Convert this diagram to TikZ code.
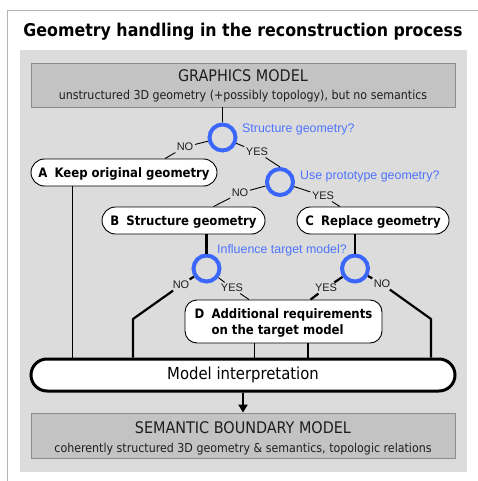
\documentclass[tikz,border=0pt]{standalone}
\usepackage{fontspec}
\setmainfont{DejaVu Sans Condensed}
\newfontfamily\askfont{Liberation Sans}
\usetikzlibrary{arrows.meta,positioning}

\definecolor{panelgray}{HTML}{DCDCDC}
\definecolor{modelgray}{HTML}{C3C3C3}
\definecolor{edgegray}{HTML}{8C8C8C}
\definecolor{framegray}{HTML}{B4B4B4}
\definecolor{ringblue}{HTML}{3A66FA}
\definecolor{askblue}{HTML}{4D73FF}
\definecolor{inkgray}{HTML}{1E1E1E}

\tikzset{
  modelbox/.style={draw=edgegray, fill=modelgray, line width=0.8pt, minimum width=424pt, minimum height=44pt, inner sep=0pt},
  stepbox/.style={draw=black, fill=white, line width=0.9pt, rounded corners=13.5pt, minimum height=27pt, inner sep=0pt, text=black, font=\bfseries\fontsize{13}{16}\selectfont},
  oneline/.style={text height=9.5pt, text depth=0pt},
  decision/.style={circle, draw=ringblue, line width=4pt, minimum size=26pt, inner sep=0pt},
  question/.style={text=askblue, font=\askfont\fontsize{12.4}{14}\selectfont, anchor=base west, inner sep=0pt},
  answer/.style={text=inkgray, font=\askfont\fontsize{11}{12}\selectfont, inner sep=1.5pt},
  thinlink/.style={line width=0.9pt, line join=round},
  thicklink/.style={line width=2.2pt, line join=round},
}

\begin{document}
\begin{tikzpicture}[x=1pt,y=-1pt]
  \useasboundingbox (0,0) rectangle (478,481);
  \draw[framegray, line width=1pt] (7,481) -- (7,11) -- (478,11);
  \node[anchor=base, font=\bfseries\fontsize{17.6}{20}\selectfont] (title) at (243,37) {Geometry handling in the reconstruction process};
  \fill[panelgray] (20,50) rectangle (467,472);

  %% models at top and bottom
  \node[modelbox] (gm) at (243,85) {};
  \node[anchor=base, text=inkgray, font=\fontsize{16}{18}\selectfont] at (243,81.5) {GRAPHICS MODEL};
  \node[anchor=base, text=inkgray, font=\fontsize{12.3}{14}\selectfont] at (243,100) {unstructured 3D geometry (+possibly topology), but no semantics};
  \node[modelbox, minimum height=45pt] (sb) at (243,435.5) {};
  \node[anchor=base, text=inkgray, font=\fontsize{16}{18}\selectfont] at (243,433) {SEMANTIC BOUNDARY MODEL};
  \node[anchor=base, text=inkgray, font=\fontsize{12.3}{14}\selectfont] at (243,452) {coherently structured 3D geometry \& semantics, topologic relations};
  \node[stepbox, line width=3pt, rounded corners=16pt, minimum width=424pt, minimum height=32pt, oneline, font=\fontsize{16.5}{19}\selectfont] (mi) at (243,375) {Model interpretation};

  %% the three ways
  \node[stepbox, oneline, minimum width=186pt] (A) at (124,172.5) {A\hspace{0.55em}Keep original geometry};
  \node[stepbox, oneline, minimum width=163pt] (B) at (183.5,220.5) {B\hspace{0.55em}Structure geometry};
  \node[stepbox, oneline, minimum width=152pt] (C) at (373,220.5) {C\hspace{0.55em}Replace geometry};
  \node[stepbox, rounded corners=12pt, minimum width=197pt, minimum height=43pt, text height=13pt, text depth=19pt] (D) at (283.5,321.5)
    {\begin{tabular}[t]{@{}l@{\hspace{0.55em}}l@{}}D & Additional requirements\\ & on the target model\end{tabular}};

  %% decisions
  \node[decision] (c1) at (222.5,137.5) {};
  \node[decision] (c2) at (280,182) {};
  \node[decision] (c3) at (206.5,268.5) {};
  \node[decision] (c4) at (355,268.5) {};
  \node[question] at (242,133) {Structure geometry?};
  \node[question] at (300,179.5) {Use prototype geometry?};
  \node[question] at (217,253.5) {Influence target model?};

  \node[answer] (no1) at (185,147) {NO};
  \node[answer] (yes1) at (257,152) {YES};
  \node[answer] (no2) at (240,193) {NO};
  \node[answer] (yes2) at (323,196) {YES};
  \node[answer] (no3) at (181,285) {NO};
  \node[answer] (yes3) at (232,288) {YES};
  \node[answer] (yes4) at (326,288) {YES};
  \node[answer] (no4) at (382,284) {NO};
  \coordinate (nBend) at (133,319);
  \coordinate (oBend) at (431,319);

  %% connectors
  \draw[thinlink] (c1) -- (c1 |- gm.south);
  \draw[thinlink] (c1) -- (no1) -- ([xshift=41pt]A.north);
  \draw[thinlink] (c1) -- (yes1) -- (c2.north);
  \draw[thinlink] (c2) -- (no2) -- ([xshift=30pt]B.north);
  \draw[thinlink] (c2) -- (yes2) -- ([xshift=-33pt]C.north);
  \draw[thinlink] ([xshift=-52pt]A.south) coordinate (aLeg) -- (aLeg |- mi.north);
  \draw[thicklink] (c3) -- (c3 |- B.south);
  \draw[thicklink] (c4) -- (c4 |- C.south);
  \draw[thicklink] (c3) -- (no3) -- (nBend) -- (nBend |- mi.north);
  \draw[thinlink] (c3) -- (yes3) -- ([xshift=-34.5pt]D.north);
  \draw[thicklink] (c4) -- (yes4) -- ([xshift=27pt]D.north);
  \draw[thicklink] (c4) -- (no4) -- (oBend) -- (oBend |- mi.north);
  \draw[thinlink] ([xshift=-29.5pt]D.south) coordinate (dLeft) -- (dLeft |- mi.north);
  \draw[thicklink] ([xshift=24.5pt]D.south) coordinate (dRight) -- (dRight |- mi.north);
  \draw[thicklink, -{Triangle[length=8pt,width=9pt]}] (mi.south) -- (sb.north);
\end{tikzpicture}
\end{document}
